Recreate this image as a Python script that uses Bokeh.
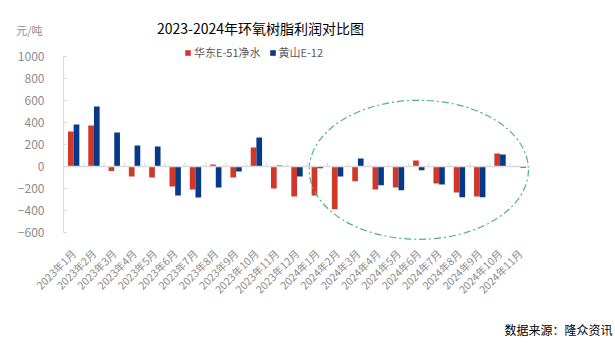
from math import pi
from bokeh.plotting import figure
from bokeh.layouts import column
from bokeh.models import (Range1d, FixedTicker, Span, Label, Legend, LegendItem,
                          ColumnDataSource, Title)
from bokeh.transform import dodge
from bokeh.embed import file_html
from bokeh.resources import INLINE

months = ["2023年1月", "2023年2月", "2023年3月", "2023年4月", "2023年5月", "2023年6月",
          "2023年7月", "2023年8月", "2023年9月", "2023年10月", "2023年11月", "2023年12月",
          "2024年1月", "2024年2月", "2024年3月", "2024年4月", "2024年5月", "2024年6月",
          "2024年7月", "2024年8月", "2024年9月", "2024年10月", "2024年11月"]
huadong = [318, 373, -42, -91, -100, -182, -209, 18, -100, 173, -200, -273,
           -264, -388, -133, -209, -191, 55, -155, -236, -273, 118, 0]
huangshan = [382, 545, 309, 191, 182, -264, -282, -191, -45, 264, 9, -91,
             -15, -91, 73, -170, -215, -33, -164, -279, -279, 109, -12]
y_ticks = [-600, -400, -200, 0, 200, 400, 600, 800, 1000]

title_text = "2023-2024年环氧树脂利润对比图"
unit_text = "元/吨"
source_text = "数据来源：隆众资讯"
series_names = ["华东E-51净水", "黄山E-12"]

# highlighted region (ellipse annotation)
ell_center = "2024年6月"
ell_y = -30
ell_w = 10.8
ell_h = 1264

RED = "#d2382a"
BLUE = "#063a88"
GRAY = "#8c8c8c"
FONT = "Noto Sans CJK SC"
W = 615
LEFT, RIGHT = 63, 85

# ---- header: title (in frame) + unit (as the header's own axis label) ----
head = figure(width=W, height=45, x_range=Range1d(LEFT, W - RIGHT), y_range=Range1d(45, 0),
              x_axis_type=None, output_backend="svg", toolbar_location=None,
              min_border=0, min_border_left=LEFT, min_border_right=RIGHT)
head.outline_line_color = None
head.grid.visible = False
hy = head.yaxis[0]
hy.ticker = FixedTicker(ticks=[29])
hy.major_label_overrides = {29: unit_text}
hy.axis_line_color = None
hy.major_tick_line_color = None
hy.minor_tick_line_color = None
hy.major_label_standoff = 15
hy.major_label_text_font = FONT
hy.major_label_text_font_size = "11px"
hy.major_label_text_color = GRAY
head.add_layout(Label(x=260, y=27, text=title_text, text_align="center",
                      text_baseline="middle", text_font=FONT, text_font_size="14px",
                      text_color="#000000"))

# ---- main chart ----
src = ColumnDataSource(dict(m=months, a=huadong, b=huangshan))

p = figure(width=W, height=308, x_range=months, y_range=Range1d(-700, 1100),
           output_backend="svg", toolbar_location=None,
           min_border_left=LEFT, min_border_right=RIGHT, min_border_top=0,
           min_border_bottom=110)
p.outline_line_color = None
p.grid.visible = False

r1 = p.vbar(x=dodge("m", -0.14, range=p.x_range), top="a", width=0.28, source=src,
            fill_color=RED, line_color=None)
r2 = p.vbar(x=dodge("m", 0.14, range=p.x_range), top="b", width=0.28, source=src,
            fill_color=BLUE, line_color=None)

p.add_layout(Span(location=0, dimension="width", line_color="#d9d9d9", line_width=1.5))
p.ray(x=dodge("m", -0.5, range=p.x_range), y=0, length=4, length_units="screen",
      angle=pi / 2, source=src, line_color="#d9d9d9", line_width=1)

p.ellipse(x=[ell_center], y=[ell_y], width=ell_w, height=ell_h,
          fill_color=None, line_color="#4fb386", line_width=1.2, line_dash="7 3 2 3")

xa = p.xaxis[0]
xa.axis_line_color = None
xa.major_tick_line_color = None
xa.major_label_orientation = pi / 4
xa.major_label_text_font_size = "10.5px"
xa.major_label_text_color = GRAY
xa.major_label_text_font = FONT
xa.major_label_standoff = 2

ya = p.yaxis[0]
ya.ticker = FixedTicker(ticks=y_ticks)
ya.bounds = (min(y_ticks), max(y_ticks))
ya.axis_line_color = "#d9d9d9"
ya.major_tick_line_color = "#d9d9d9"
ya.major_tick_in = 3
ya.major_tick_out = 0
ya.minor_tick_line_color = None
ya.major_label_text_font_size = "12px"
ya.major_label_text_color = GRAY
ya.major_label_text_font = FONT
ya.major_label_standoff = 19

legend = Legend(items=[LegendItem(label=series_names[0], renderers=[r1]),
                       LegendItem(label=series_names[1], renderers=[r2])],
                orientation="horizontal", location=(121, 183),
                glyph_width=7, glyph_height=7, label_standoff=3, spacing=8,
                label_text_font_size="11px", label_text_color="#595959",
                label_text_font=FONT, label_height=14,
                padding=0, margin=0, border_line_color=None,
                background_fill_alpha=0)
p.add_layout(legend, "center")

p.add_layout(Title(text=source_text, align="right", offset=-82, standoff=28,
                   text_font=FONT, text_font_size="12px", text_font_style="normal",
                   text_color="#000000"), "below")

layout = column(head, p, spacing=0)
open("out.html", "w").write(file_html(layout, INLINE))
